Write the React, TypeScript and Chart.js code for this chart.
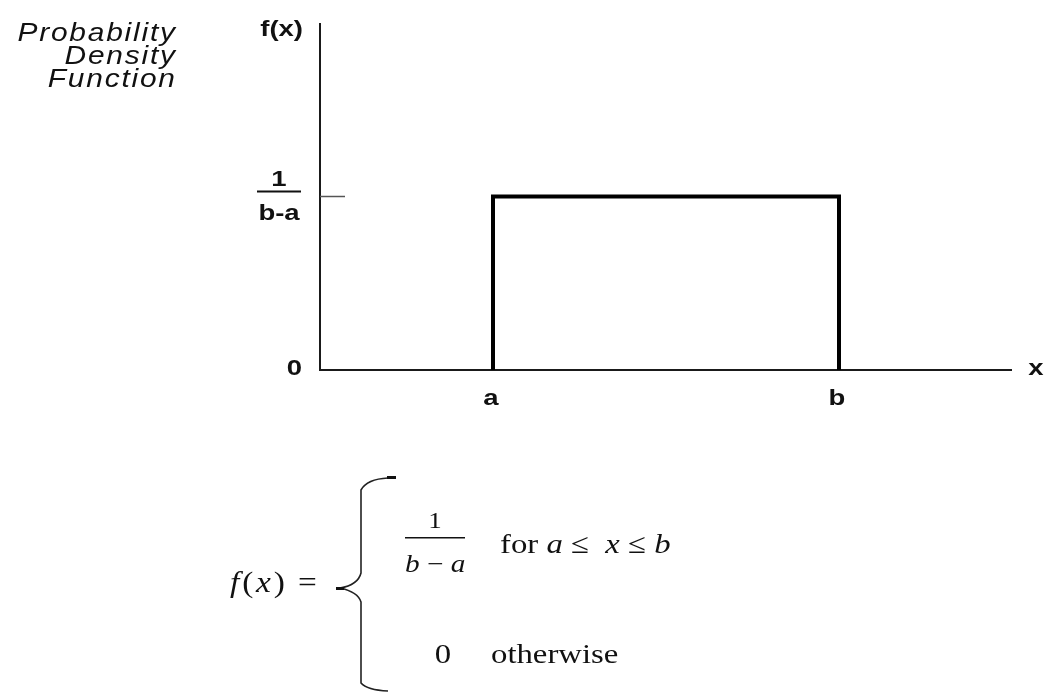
import React, { useEffect, useRef } from 'react';
import { Chart, registerables } from 'chart.js';

Chart.register(...registerables);

// ---- data ----
const xDomain = [0, 4];
const yDomain = [0, 1];
const pdfX = [1, 1, 3, 3];
const pdfY = [0, 0.5, 0.5, 0];
const xTickValues = [1, 3];
const xTickLabels = ['a', 'b'];
const yZeroLabel = '0';
const yPdfValue = 0.5;
const yPdfNumerator = '1';
const yPdfDenominator = 'b-a';
const yAxisTitle = 'f(x)';
const xAxisTitle = 'x';
const sideTitleLines = ['Probability', 'Density', 'Function'];

type Seg = { t: string; it?: boolean };

const SANS = '"Liberation Sans", Arial, sans-serif';
const SERIF = '"Liberation Serif", "Times New Roman", serif';

function drawScaled(
  ctx: CanvasRenderingContext2D,
  text: string,
  x: number,
  y: number,
  sx: number,
  align: CanvasTextAlign
) {
  ctx.save();
  ctx.translate(x, y);
  ctx.scale(sx, 1);
  ctx.textAlign = align;
  ctx.fillText(text, 0, 0);
  ctx.restore();
}

function drawSpacedRight(
  ctx: CanvasRenderingContext2D,
  text: string,
  right: number,
  y: number,
  sx: number,
  sp: number
) {
  const chars = [...text];
  let w = 0;
  for (const ch of chars) w += ctx.measureText(ch).width;
  w = w * sx + sp * (chars.length - 1);
  let cx = right - w;
  ctx.textAlign = 'left';
  for (const ch of chars) {
    ctx.save();
    ctx.translate(cx, y);
    ctx.scale(sx, 1);
    ctx.fillText(ch, 0, 0);
    ctx.restore();
    cx += ctx.measureText(ch).width * sx + sp;
  }
}

function drawRich(
  ctx: CanvasRenderingContext2D,
  segs: Seg[],
  x: number,
  y: number,
  size: number,
  sx: number,
  sp = 0
) {
  ctx.save();
  ctx.translate(x, y);
  ctx.scale(sx, 1);
  ctx.textAlign = 'left';
  let cx = 0;
  for (const s of segs) {
    ctx.font = `${s.it ? 'italic ' : ''}${size}px ${SERIF}`;
    for (const ch of s.t) {
      ctx.fillText(ch, cx, 0);
      cx += ctx.measureText(ch).width + sp;
    }
  }
  ctx.restore();
}

const annotationPlugin = {
  id: 'pdfAnnotations',
  beforeDatasetsDraw(chart: any) {
    const ctx: CanvasRenderingContext2D = chart.ctx;
    const xs = chart.scales.x;
    const ys = chart.scales.y;
    const x0 = xs.getPixelForValue(xDomain[0]);
    const x1 = xs.getPixelForValue(xDomain[1]);
    const y0 = ys.getPixelForValue(yDomain[0]);
    const y1 = ys.getPixelForValue(yDomain[1]);
    ctx.save();
    ctx.strokeStyle = '#1a1a1a';
    ctx.lineWidth = 2;
    ctx.beginPath();
    ctx.moveTo(x0, y1);
    ctx.lineTo(x0, y0);
    ctx.lineTo(x1, y0);
    ctx.stroke();
    // tick at 1/(b-a)
    const yp = ys.getPixelForValue(yPdfValue);
    ctx.strokeStyle = '#555';
    ctx.lineWidth = 1.5;
    ctx.beginPath();
    ctx.moveTo(x0, yp);
    ctx.lineTo(x0 + 25, yp);
    ctx.stroke();
    ctx.restore();
  },
  afterDraw(chart: any) {
    const ctx: CanvasRenderingContext2D = chart.ctx;
    const xs = chart.scales.x;
    const ys = chart.scales.y;
    const x0 = xs.getPixelForValue(xDomain[0]);
    const x1 = xs.getPixelForValue(xDomain[1]);
    const y0 = ys.getPixelForValue(yDomain[0]);
    const y1 = ys.getPixelForValue(yDomain[1]);
    const yp = ys.getPixelForValue(yPdfValue);
    ctx.save();
    ctx.fillStyle = '#111';
    ctx.textBaseline = 'alphabetic';

    // side title
    ctx.font = `italic 26px ${SANS}`;
    sideTitleLines.forEach((l, i) => drawSpacedRight(ctx, l, 175, 41 + i * 23, 1.15, 1.8));

    // axis labels
    ctx.font = `bold 22px ${SANS}`;
    drawScaled(ctx, yAxisTitle, x0 - 17, y1 + 13, 1.25, 'right');
    drawScaled(ctx, yZeroLabel, x0 - 18, y0 + 5, 1.25, 'right');
    drawScaled(ctx, xAxisTitle, x1 + 24, y0 + 5, 1.25, 'center');
    xTickValues.forEach((v, i) => {
      drawScaled(ctx, xTickLabels[i], xs.getPixelForValue(v) - 2, y0 + 35, 1.25, 'center');
    });

    // fraction 1/(b-a)
    const fc = x0 - 41;
    drawScaled(ctx, yPdfNumerator, fc, yp - 11, 1.25, 'center');
    drawScaled(ctx, yPdfDenominator, fc, yp + 23, 1.25, 'center');
    ctx.fillRect(fc - 22, yp - 6, 44, 2);

    // ---- formula ----
    drawRich(ctx, [{ t: 'f', it: true }, { t: '(' }, { t: 'x', it: true }, { t: ')' }], 230, 592, 29, 1.15, 2.5);
    ctx.font = `29px ${SERIF}`;
    drawScaled(ctx, '=', 298, 592, 1.15, 'left');

    // brace
    ctx.strokeStyle = '#222';
    ctx.lineWidth = 1.6;
    ctx.beginPath();
    ctx.moveTo(388, 478);
    ctx.quadraticCurveTo(367, 479, 361, 490);
    ctx.lineTo(361, 573);
    ctx.quadraticCurveTo(358, 585, 340, 588);
    ctx.quadraticCurveTo(358, 592, 361, 602);
    ctx.lineTo(361, 683);
    ctx.quadraticCurveTo(367, 690, 388, 691);
    ctx.stroke();
    ctx.fillRect(387, 476, 9, 3);
    ctx.fillRect(336, 587, 8, 3);

    // first case: 1/(b - a)
    ctx.font = `23px ${SERIF}`;
    drawScaled(ctx, '1', 435, 528, 1.17, 'center');
    ctx.fillRect(405, 537, 60, 1.5);
    drawRich(ctx, [{ t: 'b', it: true }, { t: ' \u2212 ' }, { t: 'a', it: true }], 405, 572, 25, 1.17);
    drawRich(
      ctx,
      [{ t: 'for ' }, { t: 'a', it: true }, { t: ' \u2264  ' }, { t: 'x', it: true }, { t: ' \u2264 ' }, { t: 'b', it: true }],
      500,
      553,
      28,
      1.17
    );

    // second case
    ctx.font = `28px ${SERIF}`;
    drawScaled(ctx, '0', 443, 663, 1.17, 'center');
    drawRich(ctx, [{ t: 'otherwise' }], 491, 663, 28, 1.17);
    ctx.restore();
  },
};

export default function App() {
  const ref = useRef<HTMLCanvasElement | null>(null);
  useEffect(() => {
    if (!ref.current) return;
    const chart = new Chart(ref.current, {
      type: 'line',
      data: {
        datasets: [
          {
            data: pdfX.map((x, i) => ({ x, y: pdfY[i] })),
            borderColor: '#000',
            borderWidth: 4,
            pointRadius: 0,
            fill: false,
            tension: 0,
            borderJoinStyle: 'miter',
            borderCapStyle: 'butt',
          },
        ],
      },
      options: {
        responsive: false,
        animation: false,
        events: [],
        layout: { padding: { left: 320, right: 35, top: 23, bottom: 323 } },
        scales: {
          x: { type: 'linear', min: xDomain[0], max: xDomain[1], display: false },
          y: { type: 'linear', min: yDomain[0], max: yDomain[1], display: false },
        },
        plugins: { legend: { display: false }, tooltip: { enabled: false } },
      },
      plugins: [annotationPlugin],
    } as any);
    return () => chart.destroy();
  }, []);
  return (
    <div style={{ position: 'absolute', left: 0, top: 0, width: 1047, height: 693, background: '#fff' }}>
      <canvas ref={ref} width={1047} height={693} />
    </div>
  );
}
